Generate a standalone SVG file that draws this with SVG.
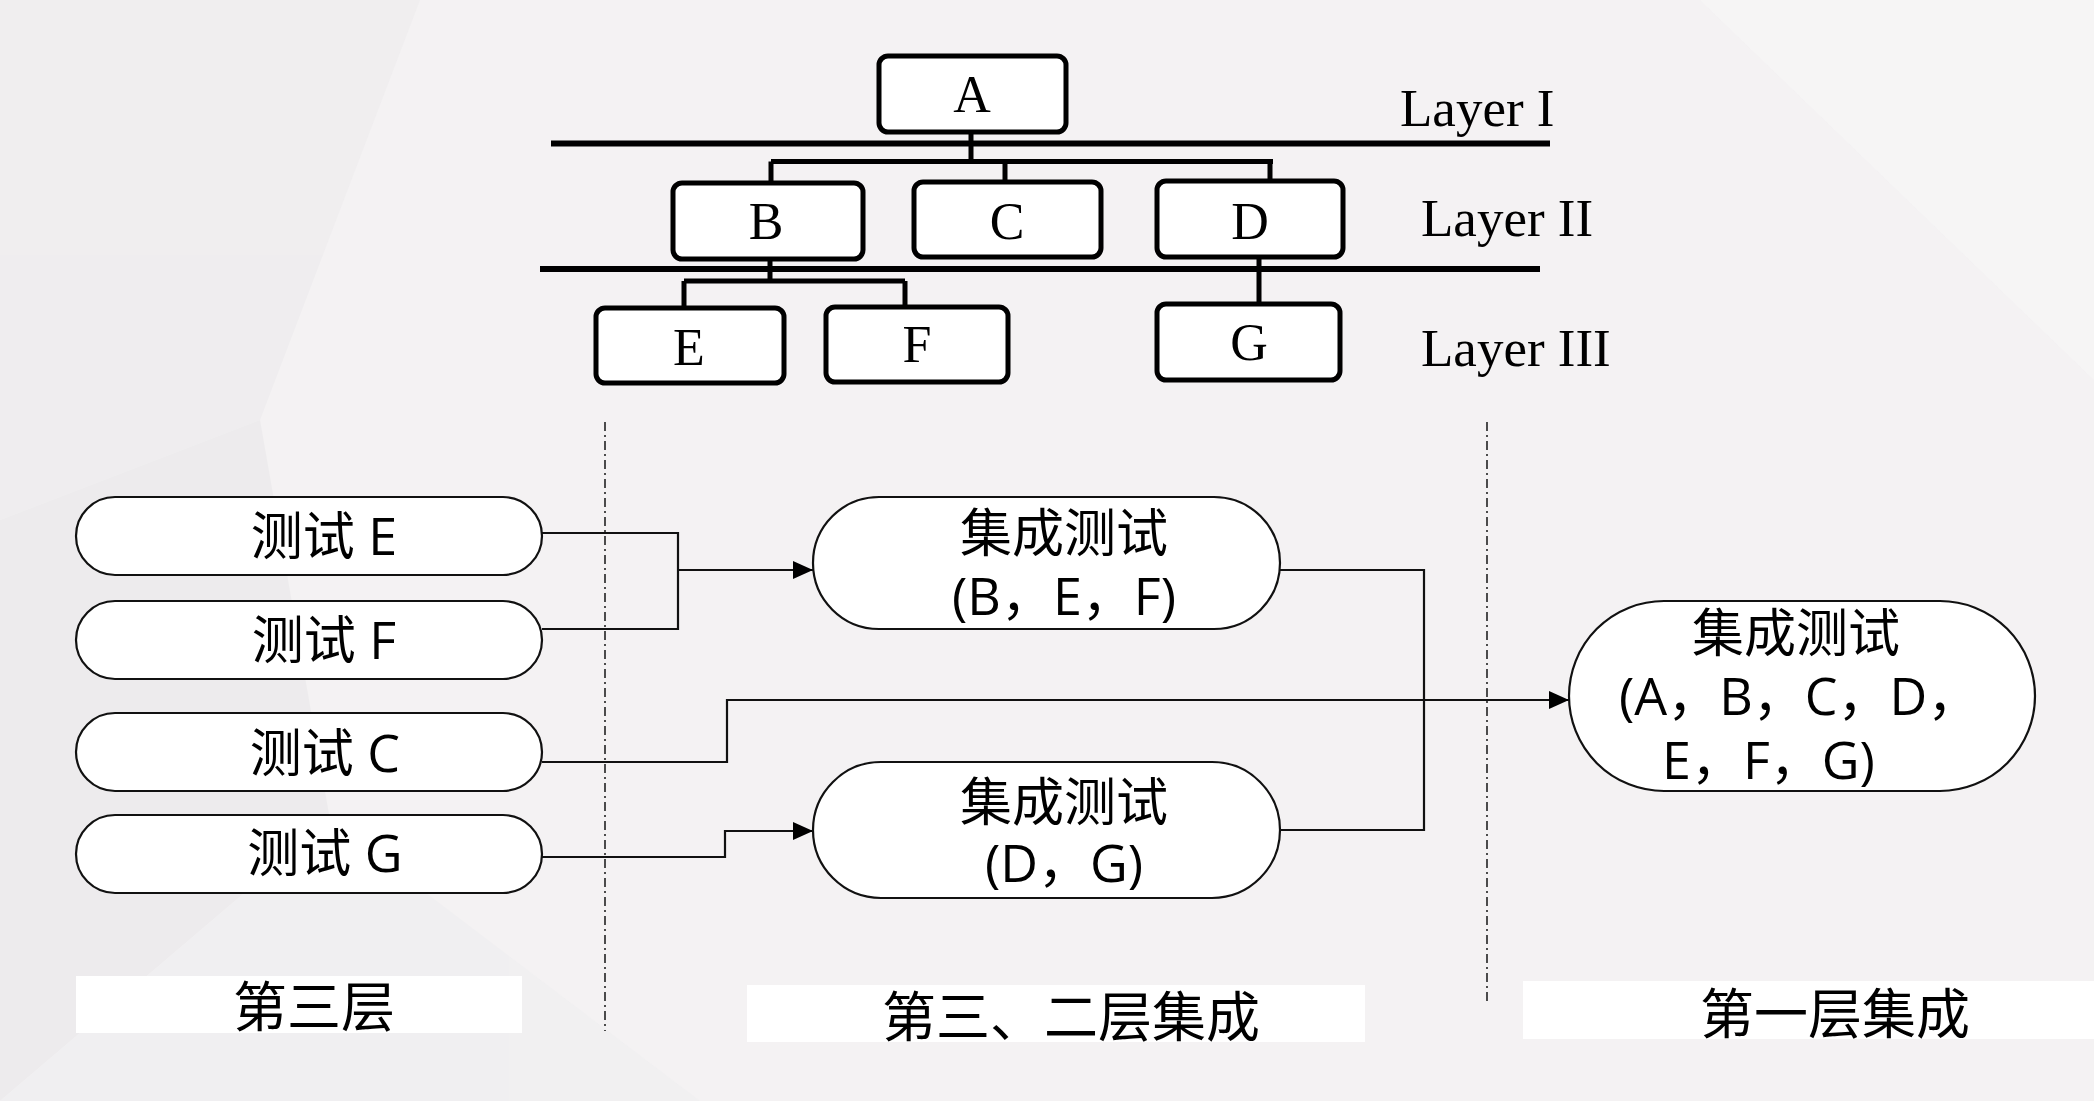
<svg xmlns="http://www.w3.org/2000/svg" width="2094" height="1101" viewBox="0 0 2094 1101">
<defs>
<style>
.tb{fill:#fff;stroke:#000;stroke-width:5}
.tl{stroke:#000;stroke-width:5;fill:none}
.bar{stroke:#000;stroke-width:6;fill:none}
.tt{font-family:"Liberation Serif","Times New Roman",serif;font-size:52px;fill:#000}
.lt{font-family:"Liberation Serif","Times New Roman",serif;font-size:53px;fill:#000}
.pill{fill:#fff;stroke:#111;stroke-width:2.2}
.pt{font-family:"Open Sans","Noto Sans CJK SC",sans-serif;font-size:52px;fill:#000}
.lab{font-family:"Noto Sans CJK SC","Noto Sans",sans-serif;font-size:54px;fill:#000}
.con{stroke:#111;stroke-width:2.2;fill:none}
.div{stroke:#222;stroke-width:1.6;fill:none;stroke-dasharray:9 4 2 4}
</style>
<marker id="arr" markerUnits="userSpaceOnUse" markerWidth="20" markerHeight="18" viewBox="0 0 20 18" refX="20" refY="9" orient="auto">
<path d="M0,0 L20,9 L0,18 z" fill="#000"/>
</marker>
</defs>
<rect x="0" y="0" width="2094" height="1101" fill="#f4f2f3"/>
<g id="background" opacity="0.6">
<polygon points="0,0 420,0 260,420 0,520" fill="#ecebed"/>
<polygon points="0,520 260,420 330,820 0,1101" fill="#e9e8ea"/>
<polygon points="0,1101 330,820 700,1101" fill="#efeef0"/>
<polygon points="1700,0 2094,0 2094,380" fill="#f7f6f7"/>
</g>
<g id="connectors">
<line class="bar" x1="551" y1="143.5" x2="1550" y2="143.5"/>
<line class="bar" x1="540" y1="269" x2="1540" y2="269"/>
<path class="tl" d="M971,132 V161.5 M771,161.5 H1273 M771,161.5 V182 M1005,161.5 V181 M1270,161.5 V180"/>
<path class="tl" d="M770,259 V281 M684,281 H905 M684,281 V307 M905,281 V306 M1259,257 V303"/>
<path class="con" d="M542,533 H678 V570"/>
<path class="con" d="M542,629 H678 V570"/>
<path class="con" d="M678,570 H813" marker-end="url(#arr)"/>
<path class="con" d="M542,762 H727 V700 H1569" marker-end="url(#arr)"/>
<path class="con" d="M542,857 H725 V831 H813" marker-end="url(#arr)"/>
<path class="con" d="M1280,570 H1424 V700"/>
<path class="con" d="M1280,830 H1424 V700"/>
<line class="div" x1="605" y1="422" x2="605" y2="1031"/>
<line class="div" x1="1487" y1="422" x2="1487" y2="1004"/>
</g>
<g id="node-A"><rect class="tb" x="879" y="56" width="187" height="76" rx="9"/><text class="tt" x="972" y="112" text-anchor="middle">A</text></g>
<g id="node-B"><rect class="tb" x="673" y="183" width="190" height="76" rx="9"/><text class="tt" x="766" y="239" text-anchor="middle">B</text></g>
<g id="node-C"><rect class="tb" x="914" y="182" width="187" height="75" rx="9"/><text class="tt" x="1007" y="239" text-anchor="middle">C</text></g>
<g id="node-D"><rect class="tb" x="1157" y="181" width="186" height="76" rx="9"/><text class="tt" x="1250" y="239" text-anchor="middle">D</text></g>
<g id="node-E"><rect class="tb" x="596" y="308" width="188" height="75" rx="9"/><text class="tt" x="689" y="365" text-anchor="middle">E</text></g>
<g id="node-F"><rect class="tb" x="826" y="307" width="182" height="75" rx="9"/><text class="tt" x="917" y="362" text-anchor="middle">F</text></g>
<g id="node-G"><rect class="tb" x="1157" y="304" width="183" height="76" rx="9"/><text class="tt" x="1249" y="360" text-anchor="middle">G</text></g>
<g id="layer-labels">
<text class="lt" x="1400" y="126">Layer I</text>
<text class="lt" x="1421" y="236">Layer II</text>
<text class="lt" x="1421" y="366">Layer III</text>
</g>
<g id="test-E"><rect class="pill" x="76" y="497" width="466" height="78" rx="39"/><text class="pt" x="324" y="555" text-anchor="middle">测试 E</text></g>
<g id="test-F"><rect class="pill" x="76" y="601" width="466" height="78" rx="39"/><text class="pt" x="324" y="659" text-anchor="middle">测试 F</text></g>
<g id="test-C"><rect class="pill" x="76" y="713" width="466" height="78" rx="39"/><text class="pt" x="325" y="772" text-anchor="middle">测试 C</text></g>
<g id="test-G"><rect class="pill" x="76" y="815" width="466" height="78" rx="39"/><text class="pt" x="325" y="872" text-anchor="middle">测试 G</text></g>
<g id="int-BEF"><rect class="pill" x="813" y="497" width="467" height="132" rx="66"/><text class="pt" x="1064" y="552" text-anchor="middle">集成测试</text><text class="pt" x="1064" y="615" text-anchor="middle">(B，E，F)</text></g>
<g id="int-DG"><rect class="pill" x="813" y="762" width="467" height="136" rx="68"/><text class="pt" x="1064" y="821" text-anchor="middle">集成测试</text><text class="pt" x="1064" y="882" text-anchor="middle">(D，G)</text></g>
<g id="int-all"><rect class="pill" x="1569" y="601" width="466" height="190" rx="95"/><text class="pt" x="1796" y="652" text-anchor="middle">集成测试</text><text class="pt" x="1619" y="715">(A，B，C，D，</text><text class="pt" x="1662" y="779">E，F，G)</text></g>
<g id="label-3"><rect x="76" y="976" width="446" height="57" fill="#fff"/><text class="lab" x="314" y="1027" text-anchor="middle">第三层</text></g>
<g id="label-32"><rect x="747" y="985" width="618" height="57" fill="#fff"/><text class="lab" x="1071" y="1037" text-anchor="middle">第三、二层集成</text></g>
<g id="label-1"><rect x="1523" y="981" width="571" height="58" fill="#fff"/><text class="lab" x="1835" y="1034" text-anchor="middle">第一层集成</text></g>
</svg>
